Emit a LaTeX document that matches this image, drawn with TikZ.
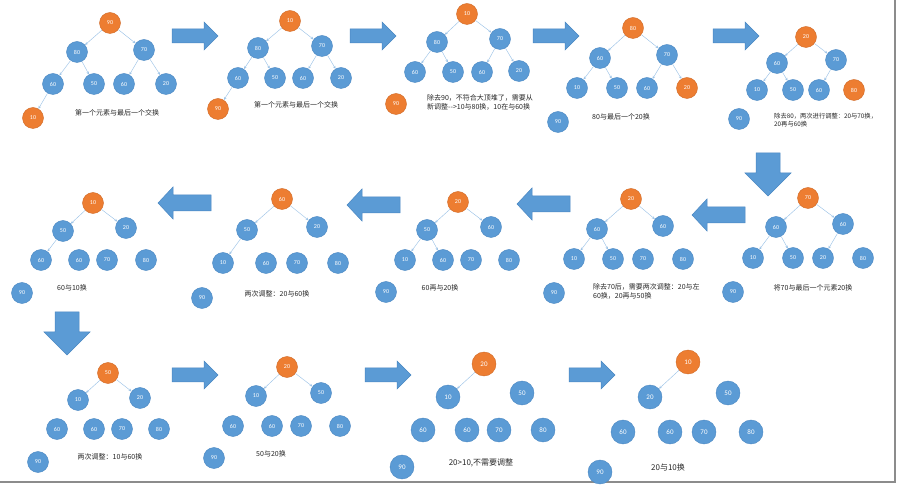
\documentclass[tikz,border=0pt]{standalone}
\usepackage{fontspec}
\setmainfont{Noto Sans CJK SC}
\newfontfamily\numfont{Carlito}
\usetikzlibrary{arrows.meta}
\definecolor{heapblue}{HTML}{5B9BD5}
\definecolor{heaporange}{HTML}{ED7D31}
\definecolor{rimblue}{HTML}{4A87C2}
\definecolor{rimorange}{HTML}{D06A27}
\definecolor{linkblue}{HTML}{9DC3E6}
\definecolor{framegray}{HTML}{8C8C8C}

\begin{document}
\begin{tikzpicture}[x=1pt, y=-1pt,
    hb/.style={circle, fill=heapblue, draw=rimblue, line width=0.4pt, minimum size=21pt, inner sep=0pt, text=white, font=\numfont\fontsize{6}{6}\selectfont},
    ho/.style={hb, fill=heaporange, draw=rimorange},
    big/.style={minimum size=24pt, font=\numfont\fontsize{7}{7}\selectfont},
    link/.style={draw=linkblue, line width=0.45pt, -{Stealth[length=3pt, width=2.6pt]}},
    bigarrow/.style={fill=heapblue, draw=rimblue, line width=0.5pt},
    note/.style={font=\fontsize{7}{9}\selectfont, text=black!85, inner sep=0pt}]
    \useasboundingbox (0,0) rectangle (900,486);

    % big arrows between the steps
    \foreach \x/\y in {172/36, 350/36, 533/36, 713/36, 172/375, 365/375, 569/375}
        \draw[bigarrow] (\x,\y-7) -- ++(32,0) -- ++(0,-7) -- ++(14,14) -- ++(-14,14) -- ++(0,-7) -- ++(-32,0) -- cycle;
    \foreach \x/\y in {692/215, 517/204, 347/205, 158/203}
        \draw[bigarrow] (\x,\y) -- ++(15,-16) -- ++(0,8) -- ++(38,0) -- ++(0,16) -- ++(-38,0) -- ++(0,8) -- cycle;
    \foreach \x/\y in {768/153, 67/312}
        \draw[bigarrow] (\x-12,\y) -- ++(24,0) -- ++(0,20) -- ++(11,0) -- ++(-23,23) -- ++(-23,-23) -- ++(11,0) -- cycle;

    \draw[framegray, line width=1.2pt] (895,0) -- (895,482) -- (0,482);

    % heap nodes, step by step
    \foreach \n/\x/\y/\v/\c in {
        s1a/110/23/90/ho, s1b/77/52/80/hb, s1c/144/50/70/hb, s1d/53/84/60/hb, s1e/94/84/50/hb, s1f/124/84/60/hb, s1g/166/84/20/hb, s1h/33/118/10/ho,
        s2a/290/21/10/ho, s2b/258/48/80/hb, s2c/322/46/70/hb, s2d/238/78/60/hb, s2e/275/78/50/hb, s2f/303/78/60/hb, s2g/341/78/20/hb, s2h/218/109/90/ho,
        s3a/467/14/10/ho, s3b/437/42/80/hb, s3c/500/39/70/hb, s3d/415/72/60/hb, s3e/453/72/50/hb, s3f/482/72/60/hb, s3g/519/71/20/hb, s3h/396/104/90/ho,
        s4a/633/28/80/ho, s4b/600/58/60/hb, s4c/667/55/70/hb, s4d/577/88/10/hb, s4e/617/88/50/hb, s4f/647/88/60/hb, s4g/687/88/20/ho, s4h/558/122/90/hb,
        s5a/806/37/20/ho, s5b/777/63/60/hb, s5c/836/60/70/hb, s5d/757/90/10/hb, s5e/793/90/50/hb, s5f/819/90/60/hb, s5g/854/90/80/ho, s5h/739/119/90/hb,
        s6a/808/198/70/ho, s6b/776/227/60/hb, s6c/843/224/60/hb, s6d/753/258/10/hb, s6e/793/258/50/hb, s6f/823/258/20/hb, s6g/863/258/80/hb, s6h/733/292/90/hb,
        s7a/631/199/20/ho, s7b/597/229/60/hb, s7c/663/226/60/hb, s7d/574/259/10/hb, s7e/613/259/50/hb, s7f/643/259/70/hb, s7g/683/259/80/hb, s7h/554/293/90/hb,
        s8a/458/202/20/ho, s8b/427/230/50/hb, s8c/491/227/60/hb, s8d/405/260/10/hb, s8e/443/260/60/hb, s8f/471/260/70/hb, s8g/509/260/80/hb, s8h/386/292/90/hb,
        s9a/282/199/60/ho, s9b/247/230/50/hb, s9c/317/227/20/hb, s9d/223/263/10/hb, s9e/266/263/60/hb, s9f/297/263/70/hb, s9g/338/263/80/hb, s9h/202/298/90/hb,
        s10a/93/203/10/ho, s10b/63/231/50/hb, s10c/126/228/20/hb, s10d/41/260/60/hb, s10e/79/260/60/hb, s10f/107/260/70/hb, s10g/146/260/80/hb, s10h/22/293/90/hb,
        s11a/108/373/50/ho, s11b/78/400/10/hb, s11c/140/398/20/hb, s11d/57/429/60/hb, s11e/94/429/60/hb, s11f/122/429/70/hb, s11g/159/429/80/hb, s11h/38/462/90/hb,
        s12a/287/367/20/ho, s12b/256/396/10/hb, s12c/321/393/50/hb, s12d/233/426/60/hb, s12e/272/426/60/hb, s12f/301/426/70/hb, s12g/340/426/80/hb, s12h/214/458/90/hb}
        \node[\c] (\n) at (\x,\y) {\v};
    \foreach \n/\x/\y/\v/\c in {
        s13a/484/364/20/ho, s13b/448/397/10/hb, s13c/522/393/50/hb, s13d/423/430/60/hb, s13e/467/430/60/hb, s13f/499/430/70/hb, s13g/543/430/80/hb, s13h/402/467/90/hb,
        s14a/688/362/10/ho, s14b/650/397/20/hb, s14c/728/393/50/hb, s14d/623/432/60/hb, s14e/670/432/60/hb, s14f/704/432/70/hb, s14g/751/432/80/hb, s14h/600/472/90/hb}
        \node[\c, big] (\n) at (\x,\y) {\v};

    % parent -> child links
    \foreach \p/\q in {s1a/s1b, s1a/s1c, s1b/s1d, s1b/s1e, s1c/s1f, s1c/s1g, s1d/s1h,
        s2a/s2b, s2a/s2c, s2b/s2d, s2b/s2e, s2c/s2f, s2c/s2g, s2d/s2h,
        s3a/s3b, s3a/s3c, s3b/s3d, s3b/s3e, s3c/s3f, s3c/s3g,
        s4a/s4b, s4a/s4c, s4b/s4d, s4b/s4e, s4c/s4f, s4c/s4g,
        s5a/s5b, s5a/s5c, s5b/s5d, s5b/s5e, s5c/s5f,
        s6a/s6b, s6a/s6c, s6b/s6d, s6b/s6e, s6c/s6f,
        s7a/s7b, s7a/s7c, s7b/s7d, s7b/s7e,
        s8a/s8b, s8a/s8c, s8b/s8d, s8b/s8e,
        s9a/s9b, s9a/s9c, s9b/s9d,
        s10a/s10b, s10a/s10c, s10b/s10d,
        s11a/s11b, s11a/s11c,
        s12a/s12b, s12a/s12c,
        s13a/s13b,
        s14a/s14b}
        \draw[link] (\p) -- (\q);

    % notes under each step
    \node[note] (t1) at (117,113) {第一个元素与最后一个交换};
    \node[note] (t2) at (296,105) {第一个元素与最后一个交换};
    \node[note, anchor=north west, align=left] (t3) at (427,94) {除去90，不符合大顶堆了，需要从\\新调整-{}->10与80换，10在与60换};
    \node[note] (t4) at (621,117) {80与最后一个20换};
    \node[note, anchor=north west, align=left, font=\fontsize{6.3}{8}\selectfont] (t5) at (774,113) {除去80，两次进行调整：20与70换，\\20再与60换};
    \node[note] (t6) at (813,288) {将70与最后一个元素20换};
    \node[note, anchor=north west, align=left] (t7) at (593,283) {除去70后，需要两次调整：20与左\\60换，20再与50换};
    \node[note] (t8) at (440,288) {60再与20换};
    \node[note] (t9) at (277,294) {两次调整：20与60换};
    \node[note] (t10) at (72,288) {60与10换};
    \node[note] (t11) at (110,457) {两次调整：10与60换};
    \node[note] (t12) at (271,454) {50与20换};
    \node[note, font=\fontsize{8}{10}\selectfont] (t13) at (481,463) {20>10,不需要调整};
    \node[note, font=\fontsize{8}{10}\selectfont] (t14) at (668,467) {20与10换};
\end{tikzpicture}
\end{document}
